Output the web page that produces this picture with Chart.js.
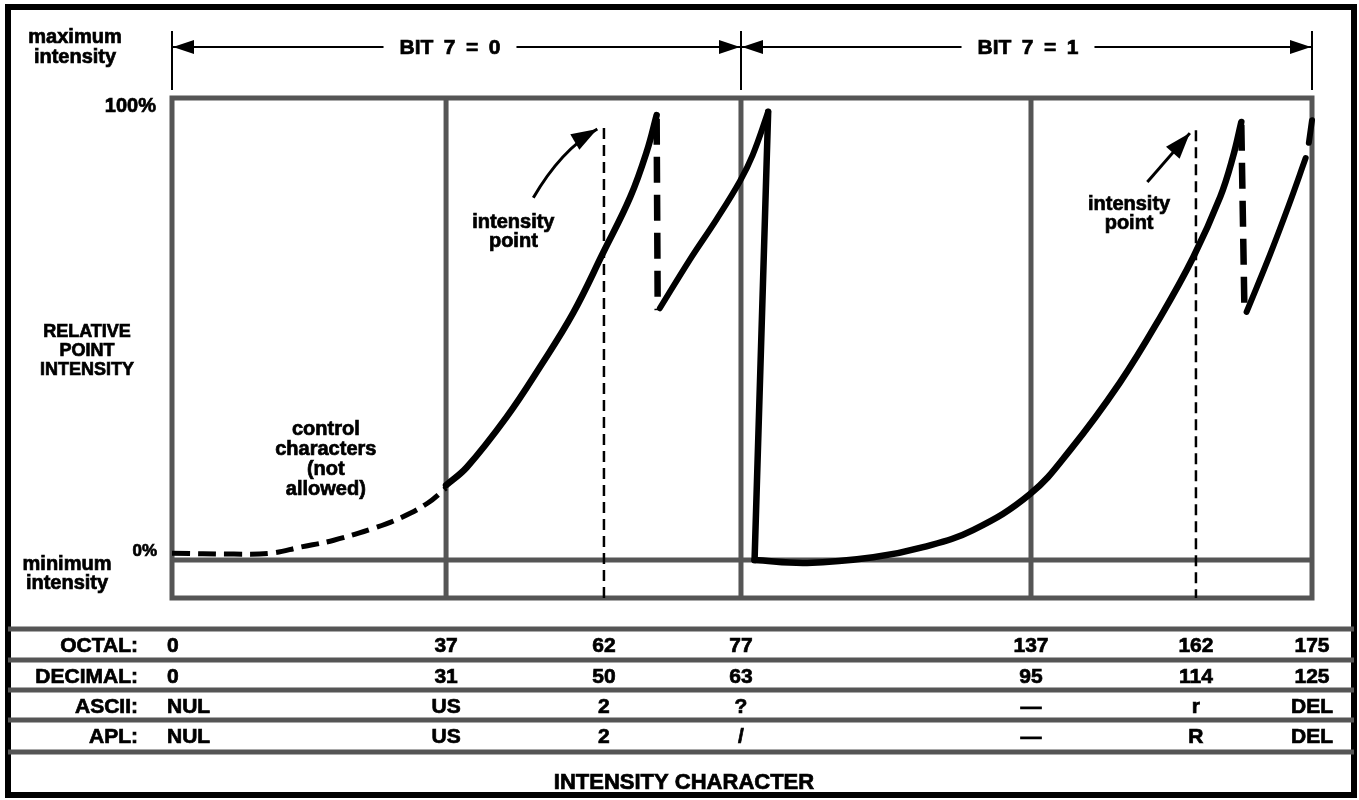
<!DOCTYPE html>
<html>
<head>
<meta charset="utf-8">
<title>Relative point intensity</title>
<script src="https://cdn.jsdelivr.net/npm/chart.js@4.4.1/dist/chart.umd.min.js"></script>
<style>
  html, body { margin: 0; padding: 0; background: #fff; }
  #wrap { width: 1359px; height: 800px; }
</style>
</head>
<body>
<div id="wrap"><canvas id="intensity"></canvas></div>
<script>
// column codes of the character table (decimal) and their labels
const decimalCodes = [0, 31, 50, 63, 95, 114, 125];
const octalLabels = ["0", "37", "62", "77", "137", "162", "175"];
const asciiLabels = ["NUL", "US", "2", "?", "—", "r", "DEL"];
const aplLabels = ["NUL", "US", "2", "/", "—", "R", "DEL"];
const gridCodes = [31, 63, 95];
const intensityCodes = [50, 114];
const intensityTops = [93.5, 93];

// curve pieces as [decimal code, relative intensity %]
const controlCurve = [[0, 1.5], [7, 1.3], [11.2, 1.5], [14.5, 2.8], [18.3, 4.3], [22.8, 6.9], [25.8, 9.1], [28.9, 12.3], [31, 15.6]];
const lowRise = [[31, 16.2], [33.5, 20.1], [38.3, 31.0], [42.3, 41.8], [46.3, 53.5], [49.9, 66.5], [52.5, 78.6], [54.1, 88.7], [55.0, 96.3]];
const lowFold = [[55.0, 95.5], [55.1, 54.1]];
const lowTail = [[55.3, 54.5], [58.2, 65.2], [60.7, 73.8], [62.9, 82.0], [64.3, 87.7], [66.0, 97.0]];
const resetDrop = [[66.0, 97.0], [64.5, 0]];
const highRise = [[64.5, 0], [70.3, -0.6], [77.6, 0.6], [83.1, 2.8], [88.6, 6.5], [94.9, 14.3], [99.5, 23.8], [105.2, 38.3], [109.9, 52.6], [113.7, 65.6], [116.3, 78.6], [117.5, 87.2], [118.3, 94.8]];
const highFold = [[118.3, 94.2], [118.6, 53.5]];
const highTail = [[118.8, 53.7], [121.0, 66.0], [122.8, 76.8], [124.4, 87.0]];
const edgeFold = [[124.7, 90.3], [125, 95.2]];

const Y_MIN = -8.2;
const Y_MAX = 100;

// share of the plot width at each entry of decimalCodes (the columns are not evenly spaced)
const columnStops = [0, 0.2404, 0.3789, 0.4991, 0.7535, 0.8982, 1];

const FONT = "'Liberation Sans', Arial, Helvetica, sans-serif";
const GRAY = "#555";

class CodeScale extends Chart.LinearScale {
  static id = "codes";

  share(v) {
    const k = decimalCodes, s = columnStops;
    let i = 1;
    while (i < k.length - 1 && v > k[i]) i++;
    return s[i - 1] + (v - k[i - 1]) / (k[i] - k[i - 1]) * (s[i] - s[i - 1]);
  }

  getPixelForValue(v) {
    return this.left + this.share(v) * this.width;
  }

  getValueForPixel(p) {
    const f = (p - this.left) / this.width;
    const k = decimalCodes, s = columnStops;
    let i = 1;
    while (i < s.length - 1 && f > s[i]) i++;
    return k[i - 1] + (f - s[i - 1]) / (s[i] - s[i - 1]) * (k[i] - k[i - 1]);
  }
}
Chart.register(CodeScale);

const toPoints = arr => arr.map(([x, y]) => ({ x, y }));

function piece(arr, width, dash, smooth) {
  return {
    data: toPoints(arr),
    borderColor: "#000",
    borderWidth: width,
    borderDash: dash || [],
    borderCapStyle: dash ? "butt" : "round",
    borderJoinStyle: "round",
    tension: smooth ? 0.4 : 0,
    pointRadius: 0,
    clip: false,
  };
}

function arrowHead(ctx, tx, ty, dx, dy, len, half) {
  const m = Math.hypot(dx, dy);
  const ux = dx / m, uy = dy / m;
  const bx = tx - ux * len, by = ty - uy * len;
  ctx.beginPath();
  ctx.moveTo(tx, ty);
  ctx.lineTo(bx - uy * half, by + ux * half);
  ctx.lineTo(bx + uy * half, by - ux * half);
  ctx.closePath();
  ctx.fill();
}

// heavy bold text, stroked a little so it reads like the printed face
function text(ctx, str, x, y, size, align) {
  ctx.font = "bold " + size + "px " + FONT;
  ctx.textAlign = align || "center";
  ctx.textBaseline = "alphabetic";
  ctx.lineWidth = 0.7;
  ctx.strokeStyle = "#000";
  ctx.fillText(str, x, y);
  ctx.strokeText(str, x, y);
}

const diagram = {
  id: "diagram",
  beforeDraw(chart) {
    const ctx = chart.ctx;
    const px = v => chart.scales.x.getPixelForValue(v);
    ctx.save();
    ctx.fillStyle = "#fff";
    ctx.fillRect(0, 0, chart.width, chart.height);

    // outer border
    ctx.strokeStyle = "#000";
    ctx.lineWidth = 6;
    ctx.strokeRect(8, 7, 1346, 788);

    // table rules
    ctx.strokeStyle = GRAY;
    ctx.lineWidth = 5;
    [629, 660, 690, 720, 752].forEach(y => {
      ctx.beginPath();
      ctx.moveTo(8, y);
      ctx.lineTo(1354, y);
      ctx.stroke();
    });

    ctx.fillStyle = "#000";
    const rows = [
      ["OCTAL:", octalLabels, 652],
      ["DECIMAL:", decimalCodes.map(String), 683],
      ["ASCII:", asciiLabels, 713],
      ["APL:", aplLabels, 743],
    ];
    rows.forEach(([name, labels, y]) => {
      text(ctx, name, 138, y, 21, "right");
      labels.forEach((lab, i) => {
        if (i === 0) text(ctx, lab, 167, y, 21, "left");
        else text(ctx, lab, px(decimalCodes[i]), y, 21, "center");
      });
    });
    text(ctx, "INTENSITY CHARACTER", 684, 789, 22, "center");

    // bit 7 span arrows
    const x0 = px(0), xm = px(63), x1 = px(125);
    const ay = 47;
    [x0, xm, x1].forEach(x => {
      ctx.strokeStyle = "#000";
      ctx.lineWidth = 2;
      ctx.beginPath();
      ctx.moveTo(x, 31);
      ctx.lineTo(x, 90);
      ctx.stroke();
    });
    const spans = [["BIT\u20027\u2002=\u20020", x0, xm, 450], ["BIT\u20027\u2002=\u20021", xm, x1, 1028]];
    spans.forEach(([label, a, b, c]) => {
      ctx.font = "bold 21px " + FONT;
      const w = ctx.measureText(label).width / 2 + 16;
      ctx.strokeStyle = "#000";
      ctx.lineWidth = 2;
      ctx.beginPath();
      ctx.moveTo(a, ay);
      ctx.lineTo(c - w, ay);
      ctx.moveTo(c + w, ay);
      ctx.lineTo(b, ay);
      ctx.stroke();
      text(ctx, label, c, ay + 7, 21, "center");
      arrowHead(ctx, a + 1, ay, -1, 0, 21, 7);
      arrowHead(ctx, b - 1, ay, 1, 0, 21, 7);
    });

    // left side labels
    text(ctx, "maximum", 75, 43, 20);
    text(ctx, "intensity", 75, 63, 20);
    text(ctx, "100%", 156, 112, 20, "right");
    text(ctx, "RELATIVE", 87, 337, 18);
    text(ctx, "POINT", 87, 356, 18);
    text(ctx, "INTENSITY", 87, 375, 18);
    text(ctx, "0%", 157, 556, 17, "right");
    text(ctx, "minimum", 67, 570, 20);
    text(ctx, "intensity", 67, 589, 20);
    ctx.restore();
  },
  beforeDatasetsDraw(chart) {
    const ctx = chart.ctx;
    const { left, top, right, bottom } = chart.chartArea;
    const px = v => chart.scales.x.getPixelForValue(v);
    const py = v => chart.scales.y.getPixelForValue(v);
    ctx.save();
    ctx.strokeStyle = GRAY;
    ctx.lineWidth = 5;
    ctx.strokeRect(left, top, right - left, bottom - top);
    ctx.beginPath();
    gridCodes.forEach(c => {
      ctx.moveTo(px(c), top);
      ctx.lineTo(px(c), bottom);
    });
    ctx.moveTo(left, py(0));
    ctx.lineTo(right, py(0));
    ctx.stroke();
    ctx.restore();
  },
  afterDatasetsDraw(chart) {
    const ctx = chart.ctx;
    const px = v => chart.scales.x.getPixelForValue(v);
    const py = v => chart.scales.y.getPixelForValue(v);
    ctx.save();
    ctx.fillStyle = "#000";

    const cx = px(17.4), cy = py(27.1);
    ["control", "characters", "(not", "allowed)"].forEach((s, i) => text(ctx, s, cx, cy + i * 20, 20));

    // intensity point callouts
    const callouts = [
      { label: [39.1, 71.9], from: [41.5, 78.4], bend: [44.8, 88.7], tip: [49.2, 93.3] },
      { label: [106.3, 75.8], from: [108.4, 81.8], bend: null, tip: [113.3, 92.4] },
    ];
    callouts.forEach(c => {
      const lx = px(c.label[0]), ly = py(c.label[1]);
      text(ctx, "intensity", lx, ly, 20);
      text(ctx, "point", lx, ly + 19, 20);
      const fx = px(c.from[0]), fy = py(c.from[1]);
      const tx = px(c.tip[0]), ty = py(c.tip[1]);
      ctx.strokeStyle = "#000";
      ctx.lineWidth = 3;
      ctx.beginPath();
      ctx.moveTo(fx, fy);
      let dx, dy;
      if (c.bend) {
        const bx = px(c.bend[0]), by = py(c.bend[1]);
        ctx.quadraticCurveTo(bx, by, tx, ty);
        dx = tx - bx; dy = ty - by;
      } else {
        ctx.lineTo(tx, ty);
        dx = tx - fx; dy = ty - fy;
      }
      ctx.stroke();
      arrowHead(ctx, tx, ty, dx, dy, 26, 9);
    });
    ctx.restore();
  },
};

const markerSets = intensityCodes.map((c, i) => ({
  data: [{ x: c, y: intensityTops[i] }, { x: c, y: Y_MIN }],
  borderColor: "#000",
  borderWidth: 2.5,
  borderDash: [11, 6],
  pointRadius: 0,
  clip: false,
}));

new Chart(document.getElementById("intensity"), {
  type: "line",
  data: {
    datasets: [
      piece(controlCurve, 5, [18, 8], true),
      piece(lowRise, 6.5, null, true),
      piece(lowFold, 6.5, [26, 12], false),
      piece(lowTail, 6, null, true),
      piece(resetDrop, 6.5, null, false),
      piece(highRise, 6.5, null, true),
      piece(highFold, 6.5, [26, 12], false),
      piece(highTail, 6, null, true),
      piece(edgeFold, 6, null, false),
      ...markerSets,
    ],
  },
  options: {
    responsive: true,
    maintainAspectRatio: false,
    animation: false,
    events: [],
    layout: { padding: { left: 172, top: 98, right: 47, bottom: 202 } },
    scales: {
      x: { type: "codes", min: 0, max: 125, display: false },
      y: { type: "linear", min: Y_MIN, max: Y_MAX, display: false },
    },
    plugins: {
      legend: { display: false },
      tooltip: { enabled: false },
    },
  },
  plugins: [diagram],
});
</script>
</body>
</html>
